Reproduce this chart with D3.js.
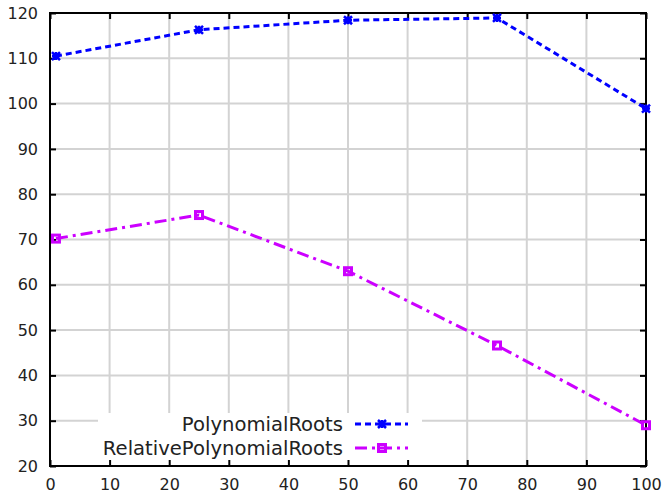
<!DOCTYPE html>
<html>
<head>
<meta charset="utf-8">
<script src="https://cdn.jsdelivr.net/npm/d3@7"></script>
<style>
  body { margin: 0; background: #fff; }
  text { font-family: "DejaVu Sans", sans-serif; font-size: 16px; fill: #222; }
</style>
</head>
<body>
<div id="chart"></div>
<script>
// data
var xValues = [1, 25, 50, 75, 100];
var polyRoots = [110.5, 116.3, 118.4, 118.9, 98.9];
var relPolyRoots = [70.2, 75.4, 63.0, 46.6, 29.0];
var seriesNames = ["PolynomialRoots", "RelativePolynomialRoots"];
var xTicks = [0, 10, 20, 30, 40, 50, 60, 70, 80, 90, 100];
var yTicks = [20, 30, 40, 50, 60, 70, 80, 90, 100, 110, 120];

var svgWidth = 665;
var svgHeight = 493;
var margin = { top: 13, right: 19, bottom: 27, left: 50 };
var chartWidth = svgWidth - margin.left - margin.right;
var chartHeight = svgHeight - margin.top - margin.bottom;

var svg = d3.select("#chart").append("svg")
    .attr("width", svgWidth)
    .attr("height", svgHeight);

var chartGroup = svg.append("g")
    .attr("transform", `translate(${margin.left}, ${margin.top})`);

var xScale = d3.scaleLinear().domain([0, 100]).range([0, chartWidth]);
var yScale = d3.scaleLinear().domain([20, 120]).range([chartHeight, 0]);

// grid
chartGroup.append("g").selectAll("line").data(xTicks.slice(1, -1)).enter()
    .append("line")
    .attr("x1", d => xScale(d)).attr("x2", d => xScale(d))
    .attr("y1", 0).attr("y2", chartHeight)
    .attr("stroke", "#d3d3d3").attr("stroke-width", 2);
chartGroup.append("g").selectAll("line").data(yTicks.slice(1, -1)).enter()
    .append("line")
    .attr("x1", 0).attr("x2", chartWidth)
    .attr("y1", d => yScale(d)).attr("y2", d => yScale(d))
    .attr("stroke", "#d3d3d3").attr("stroke-width", 2);

// legend box hides the grid behind it
chartGroup.append("rect")
    .attr("x", 48).attr("y", 400)
    .attr("width", 324).attr("height", chartHeight - 400)
    .attr("fill", "#fff");

// axes with inward ticks, mirrored
function styleAxis(g) {
    g.select(".domain").remove();
    g.selectAll(".tick line").attr("stroke", "#000").attr("stroke-width", 2);
    g.selectAll(".tick text").attr("fill", "#222")
        .style("font-family", "DejaVu Sans, sans-serif").style("font-size", "16px");
}

chartGroup.append("g")
    .attr("transform", `translate(0, ${chartHeight})`)
    .call(d3.axisBottom(xScale).tickValues(xTicks).tickSizeInner(-6).tickSizeOuter(0).tickPadding(13))
    .call(styleAxis);
chartGroup.append("g")
    .call(d3.axisTop(xScale).tickValues(xTicks).tickSizeInner(-6).tickSizeOuter(0))
    .call(styleAxis)
    .selectAll("text").remove();
chartGroup.append("g")
    .call(d3.axisLeft(yScale).tickValues(yTicks).tickSizeInner(-6).tickSizeOuter(0).tickPadding(12))
    .call(styleAxis);
chartGroup.append("g")
    .attr("transform", `translate(${chartWidth}, 0)`)
    .call(d3.axisRight(yScale).tickValues(yTicks).tickSizeInner(-6).tickSizeOuter(0))
    .call(styleAxis)
    .selectAll("text").remove();

chartGroup.append("rect")
    .attr("width", chartWidth).attr("height", chartHeight)
    .attr("fill", "none").attr("stroke", "#000").attr("stroke-width", 2);

// series
var series = [
    { name: seriesNames[0], values: polyRoots, color: "#0000ff", dash: "6,4", marker: "star" },
    { name: seriesNames[1], values: relPolyRoots, color: "#cc00ff", dash: "12,5,3,5", marker: "box" }
];

var line = d3.line().x(d => xScale(d[0])).y(d => yScale(d[1]));

function drawMarker(g, type, cx, cy, color) {
    if (type === "star") {
        var s = 4;
        var p = `M${cx - s},${cy}H${cx + s}M${cx},${cy - s}V${cy + s}` +
                `M${cx - s},${cy - s}L${cx + s},${cy + s}M${cx - s},${cy + s}L${cx + s},${cy - s}`;
        g.append("path").attr("d", p).attr("stroke", color).attr("stroke-width", 2.5).attr("fill", "none");
    } else {
        g.append("rect").attr("x", cx - 3.5).attr("y", cy - 3.5).attr("width", 7).attr("height", 7)
            .attr("stroke", color).attr("stroke-width", 3).attr("fill", "none");
    }
}

series.forEach(function(s, i) {
    var pts = xValues.map((x, j) => [x, s.values[j]]);
    chartGroup.append("path")
        .attr("d", line(pts))
        .attr("fill", "none")
        .attr("stroke", s.color)
        .attr("stroke-width", 3)
        .attr("stroke-dasharray", s.dash);
    var mg = chartGroup.append("g");
    pts.forEach(p => drawMarker(mg, s.marker, xScale(p[0]), yScale(p[1]), s.color));

    // legend entry
    var ly = 411 + i * 24;
    chartGroup.append("text")
        .attr("x", 293).attr("y", ly).attr("dy", "0.35em")
        .attr("text-anchor", "end")
        .style("font-size", "19.6px")
        .text(s.name);
    chartGroup.append("line")
        .attr("x1", 305).attr("x2", 358)
        .attr("y1", ly).attr("y2", ly)
        .attr("stroke", s.color).attr("stroke-width", 3)
        .attr("stroke-dasharray", s.dash);
    drawMarker(chartGroup, s.marker, 332, ly, s.color);
});
</script>
</body>
</html>
